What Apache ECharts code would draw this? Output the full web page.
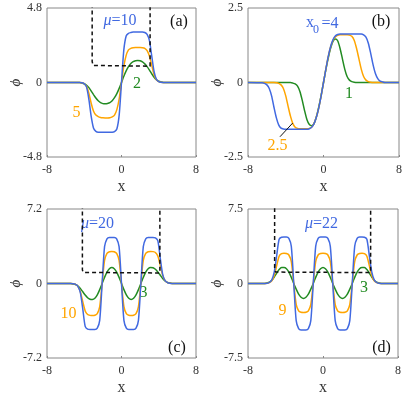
<!DOCTYPE html>
<html>
<head>
<meta charset="utf-8">
<script src="https://cdn.jsdelivr.net/npm/echarts@6.0.0/dist/echarts.min.js"></script>
<style>
  html, body { margin: 0; padding: 0; background: #fff; }
  #chart { width: 415px; height: 397px; }
</style>
</head>
<body>
<div id="chart"></div>
<script>
// 四个子图 (a)-(d)：phi(x) 曲线 + 势阱虚线

// ---- (a) mu = 10, 5, 2 ----
const xsA = [-8, -4.5, -4.25, -4, -3.75, -3.5, -3.25, -3, -2.75, -2.5, -2.25, -2, -1.75, -1.5, -1.25, -1,
  -0.75, -0.5, -0.25, 0, 0.25, 0.5, 0.75, 1, 1.25, 1.5, 1.75, 2, 2.25, 2.5, 2.75, 3, 3.25, 3.5, 3.75, 4, 4.25, 4.5, 8];
const blueA = [0, 0, -0.02, -0.08, -0.3, -1.1, -2.2, -2.95, -3.15, -3.2, -3.2, -3.2, -3.2, -3.2, -3.2, -3.2,
  -3.17, -3.0, -2.1, 0, 2.1, 3.0, 3.17, 3.22, 3.25, 3.25, 3.25, 3.25, 3.25, 3.22, 3.1, 2.7, 1.7, 0.7, 0.2, 0.05, 0.01, 0, 0];
const orangeA = [0, 0, -0.02, -0.08, -0.25, -0.7, -1.35, -1.85, -2.1, -2.2, -2.25, -2.27, -2.28, -2.28, -2.27, -2.22,
  -2.1, -1.75, -1.05, 0, 1.05, 1.75, 2.1, 2.2, 2.24, 2.25, 2.25, 2.25, 2.24, 2.2, 2.05, 1.7, 1.1, 0.5, 0.18, 0.06, 0.02, 0, 0];
const greenA = [0, 0, -0.03, -0.08, -0.18, -0.33, -0.55, -0.78, -1.0, -1.18, -1.3, -1.36, -1.37, -1.35, -1.3, -1.18,
  -0.98, -0.72, -0.38, 0, 0.4, 0.75, 1.02, 1.22, 1.34, 1.4, 1.42, 1.4, 1.33, 1.2, 1.02, 0.8, 0.56, 0.34, 0.18, 0.08, 0.03, 0, 0];
const potAx = [-3.15, -3.15, -3.05, -2.9, 3.07, 3.07];
const potAy = [6, 1.35, 1.1, 1.05, 1.05, 6];

// ---- (b) x0 = 4, 2.5, 1 ----
const xsB = [-8, -6.5, -6.25, -6, -5.75, -5.5, -5.25, -5, -4.75, -4.5, -4.25, -4, -3.75, -3.5, -3.25, -3,
  -2.75, -2.5, -2.25, -2, -1.75, -1.5, -1.25, -1, -0.75, -0.5, -0.25, 0, 0.25, 0.5, 0.75, 1, 1.25, 1.5,
  1.75, 2, 2.25, 2.5, 2.75, 3, 3.25, 3.5, 3.75, 4, 4.25, 4.5, 4.75, 5, 5.25, 5.5, 5.75, 6, 6.25, 6.5, 8];
const blueB = [0, -0.01, -0.03, -0.08, -0.2, -0.45, -0.83, -1.18, -1.42, -1.53, -1.56, -1.57, -1.57, -1.57, -1.57, -1.57,
  -1.57, -1.57, -1.57, -1.57, -1.57, -1.55, -1.5, -1.38, -1.16, -0.85, -0.45, 0, 0.45, 0.87, 1.2, 1.43, 1.56, 1.61,
  1.63, 1.63, 1.63, 1.63, 1.63, 1.63, 1.63, 1.63, 1.63, 1.63, 1.6, 1.52, 1.32, 0.98, 0.6, 0.3, 0.13, 0.05, 0.02, 0, 0];
const orangeB = [0, 0, 0, 0, 0, 0, 0, -0.01, -0.03, -0.08, -0.2, -0.45, -0.8, -1.13, -1.38, -1.5,
  -1.54, -1.55, -1.55, -1.55, -1.55, -1.54, -1.49, -1.37, -1.15, -0.85, -0.45, 0, 0.45, 0.86, 1.19, 1.41, 1.53, 1.58,
  1.6, 1.6, 1.6, 1.6, 1.59, 1.55, 1.42, 1.15, 0.8, 0.45, 0.2, 0.08, 0.03, 0.01, 0, 0, 0, 0, 0, 0, 0];
const greenB = [0, 0, 0, 0, 0, 0, 0, 0, 0, 0, 0, 0, 0, 0, -0.02, -0.05,
  -0.12, -0.3, -0.6, -0.95, -1.25, -1.41, -1.45, -1.38, -1.15, -0.82, -0.43, 0, 0.43, 0.82, 1.15, 1.38, 1.46, 1.4,
  1.15, 0.8, 0.45, 0.2, 0.08, 0.03, 0.01, 0, 0, 0, 0, 0, 0, 0, 0, 0, 0, 0, 0, 0, 0];
const leadBx = [-4.61, -3.26];
const leadBy = [-1.82, -1.36];

// ---- (c) mu = 20, 10, 3   /  (d) mu = 22, 9, 3 ----
const xsCD = [-8, -6.5, -6.24, -5.98, -5.72, -5.46, -5.2, -4.94, -4.68, -4.42, -4.16, -3.9, -3.64, -3.38,
  -3.12, -2.86, -2.6, -2.34, -2.08, -1.82, -1.56, -1.3, -1.04, -0.78, -0.52, -0.26, 0, 0.26, 0.52, 0.78,
  1.04, 1.3, 1.56, 1.82, 2.08, 2.34, 2.6, 2.86, 3.12, 3.38, 3.64, 3.9, 4.16, 4.42, 4.68, 4.94, 5.2, 5.46,
  5.72, 5.98, 6.24, 6.5, 8];
const blueC = [0, 0, 0, 0, 0, 0, -0.02, -0.09, -0.27, -0.89, -2.45, -4.14, -4.42, -4.45,
  -4.45, -4.45, -4.32, -3.56, 0, 3.56, 4.32, 4.45, 4.45, 4.45, 4.32, 3.56, 0, -3.56, -4.32, -4.45,
  -4.45, -4.45, -4.32, -3.56, 0, 3.56, 4.32, 4.45, 4.45, 4.45, 4.42, 4.14, 2.45, 0.89, 0.27, 0.09, 0.02, 0,
  0, 0, 0, 0, 0];
const orangeC = [0, 0, 0, 0, 0, -0.01, -0.03, -0.09, -0.28, -0.8, -1.75, -2.65, -3.0, -3.08,
  -3.1, -3.07, -2.91, -2.23, 0, 2.23, 2.91, 3.07, 3.1, 3.07, 2.91, 2.23, 0, -2.23, -2.91, -3.07,
  -3.1, -3.07, -2.91, -2.23, 0, 2.23, 2.91, 3.07, 3.1, 3.08, 3.0, 2.65, 1.75, 0.8, 0.28, 0.09, 0.03, 0.01,
  0, 0, 0, 0, 0];
const greenC = [0, 0, 0, 0, 0, -0.01, -0.04, -0.1, -0.24, -0.48, -0.8, -1.12, -1.38, -1.52,
  -1.55, -1.43, -1.1, -0.59, 0, 0.59, 1.1, 1.43, 1.55, 1.43, 1.1, 0.59, 0, -0.59, -1.1, -1.43,
  -1.55, -1.43, -1.1, -0.59, 0, 0.59, 1.1, 1.43, 1.55, 1.52, 1.38, 1.12, 0.8, 0.48, 0.24, 0.1, 0.04, 0.01,
  0, 0, 0, 0, 0];
const potCx = [-4.2, -4.2, -4.1, -3.95, 4.12, 4.12];
const potCy = [9, 1.3, 1.07, 1.02, 1.02, 9];

const blueD = [0, 0, 0, 0.03, 0.1, 0.37, 1.17, 2.8, 4.45, 4.66, 4.68, 4.68, 4.54, 3.74,
  0, -3.74, -4.54, -4.68, -4.68, -4.68, -4.54, -3.74, 0, 3.74, 4.54, 4.68, 4.68, 4.68, 4.54, 3.74,
  0, -3.74, -4.54, -4.68, -4.68, -4.68, -4.54, -3.74, 0, 3.74, 4.54, 4.68, 4.68, 4.66, 4.45, 2.8, 1.17, 0.37,
  0.1, 0.03, 0, 0, 0];
const orangeD = [0, 0, 0, 0.03, 0.09, 0.28, 0.8, 1.8, 2.75, 3.0, 3.05, 3.02, 2.87, 2.2,
  0, -2.1, -2.75, -2.9, -2.92, -2.9, -2.75, -2.1, 0, 2.2, 2.87, 3.02, 3.05, 3.02, 2.87, 2.2,
  0, -2.1, -2.75, -2.9, -2.92, -2.9, -2.75, -2.1, 0, 2.2, 2.87, 3.02, 3.05, 3.0, 2.75, 1.8, 0.8, 0.28,
  0.09, 0.03, 0, 0, 0];
const greenD = [0, 0, 0.01, 0.05, 0.13, 0.32, 0.65, 1.05, 1.4, 1.6, 1.6, 1.49, 1.15, 0.62,
  0, -0.57, -1.07, -1.38, -1.5, -1.38, -1.07, -0.57, 0, 0.62, 1.15, 1.49, 1.62, 1.49, 1.15, 0.62,
  0, -0.57, -1.07, -1.38, -1.5, -1.38, -1.07, -0.57, 0, 0.62, 1.15, 1.49, 1.6, 1.6, 1.4, 1.05, 0.65, 0.32,
  0.13, 0.05, 0.01, 0, 0];
const potDx = [-5.16, -5.16, -5.06, -4.9, 5.08, 5.08];
const potDy = [9, 1.4, 1.15, 1.1, 1.1, 9];

// y 轴范围
const yMax = [4.8, 2.5, 7.2, 7.5];

const FONT = '"Liberation Serif", "Times New Roman", serif';
const BLUE = '#4169e1';
const ORANGE = '#ffa500';
const GREEN = '#228b22';

function zip(xs, ys) {
  return xs.map((x, i) => [x, ys[i]]);
}

const gridBoxes = [
  { left: 47, top: 8, width: 149, height: 149 },
  { left: 248, top: 8, width: 151, height: 149 },
  { left: 47, top: 209, width: 149, height: 150 },
  { left: 248, top: 209, width: 150, height: 149 }
];

const grids = gridBoxes.map(g => Object.assign({
  show: true, borderColor: '#888', borderWidth: 1, backgroundColor: 'transparent'
}, g));

const xAxes = gridBoxes.map((g, i) => ({
  type: 'value', gridIndex: i, min: -8, max: 8, interval: 8,
  axisLine: { show: false, onZero: false },
  axisTick: { show: true, inside: true, length: 2, lineStyle: { color: '#888' } },
  splitLine: { show: false },
  axisLabel: { fontFamily: FONT, fontSize: 12, color: '#333', margin: 7, showMinLabel: true, showMaxLabel: true },
  name: 'x', nameLocation: 'middle', nameGap: 22, nameMoveOverlap: false,
  nameTextStyle: { fontFamily: FONT, fontSize: 16, color: '#333' }
}));

const yAxes = gridBoxes.map((g, i) => ({
  type: 'value', gridIndex: i, min: -yMax[i], max: yMax[i], interval: yMax[i],
  axisLine: { show: false, onZero: false },
  axisTick: { show: false },
  splitLine: { show: false },
  axisLabel: { fontFamily: FONT, fontSize: 12, color: '#333', margin: 5, showMinLabel: true, showMaxLabel: true },
  name: '\u03d5', nameLocation: 'middle', nameGap: 23, nameRotate: 90, nameMoveOverlap: false,
  nameTextStyle: { fontFamily: FONT, fontSize: 15, fontStyle: 'italic', color: '#333' }
}));

function curve(i, xs, ys, color) {
  return {
    type: 'line', xAxisIndex: i, yAxisIndex: i, data: zip(xs, ys),
    showSymbol: false, smooth: 0.25, animation: false,
    lineStyle: { color: color, width: 1.5 }, itemStyle: { color: color }
  };
}

function dashed(i, xs, ys, w) {
  return {
    type: 'line', xAxisIndex: i, yAxisIndex: i, data: zip(xs, ys),
    showSymbol: false, animation: false,
    lineStyle: { color: '#111', width: w, type: [4, 3] }
  };
}

const series = [
  curve(0, xsA, greenA, GREEN), curve(0, xsA, orangeA, ORANGE), curve(0, xsA, blueA, BLUE),
  dashed(0, potAx, potAy, 1.5),
  curve(1, xsB, greenB, GREEN), curve(1, xsB, orangeB, ORANGE), curve(1, xsB, blueB, BLUE),
  { type: 'line', xAxisIndex: 1, yAxisIndex: 1, data: zip(leadBx, leadBy), showSymbol: false,
    animation: false, lineStyle: { color: '#111', width: 1 } },
  curve(2, xsCD, greenC, GREEN), curve(2, xsCD, orangeC, ORANGE), curve(2, xsCD, blueC, BLUE),
  dashed(2, potCx, potCy, 1.5),
  curve(3, xsCD, greenD, GREEN), curve(3, xsCD, orangeD, ORANGE), curve(3, xsCD, blueD, BLUE),
  dashed(3, potDx, potDy, 1.5)
];

// 文字标注
function label(x, y, text, color, size) {
  return {
    type: 'text', x: x, y: y, silent: true,
    style: { text: text, fill: color, font: (size || 16) + 'px ' + FONT, align: 'center', verticalAlign: 'middle' }
  };
}

function muLabel(x, y, value) {
  return {
    type: 'text', x: x, y: y, silent: true,
    style: {
      text: '{i|\u03bc}{n|=' + value + '}', align: 'center', verticalAlign: 'middle',
      rich: {
        i: { fill: BLUE, font: 'italic 16px ' + FONT },
        n: { fill: BLUE, font: '16px ' + FONT }
      }
    }
  };
}

const graphics = [
  muLabel(120, 21, '10'), label(179, 22, '(a)', '#111'),
  label(76.5, 113, '5', ORANGE), label(137, 84, '2', GREEN),

  label(310, 23, 'x', BLUE), label(316, 29.5, '0', BLUE, 12), label(330, 23.5, '=4', BLUE),
  label(381, 22, '(b)', '#111'),
  label(349, 94, '1', GREEN), label(277.5, 146, '2.5', ORANGE),

  muLabel(97.5, 224, '20'), label(177, 347.5, '(c)', '#111'),
  label(68.5, 314, '10', ORANGE), label(143.5, 292.5, '3', GREEN),

  muLabel(321.5, 224, '22'), label(381.5, 347.5, '(d)', '#111'),
  label(282.5, 311, '9', ORANGE), label(364, 288, '3', GREEN)
];

const chart = echarts.init(document.getElementById('chart'), null, { renderer: 'canvas' });
chart.setOption({
  backgroundColor: '#fff',
  animation: false,
  grid: grids,
  xAxis: xAxes,
  yAxis: yAxes,
  series: series,
  graphic: graphics
});

window.addEventListener('resize', () => chart.resize());
</script>
</body>
</html>
